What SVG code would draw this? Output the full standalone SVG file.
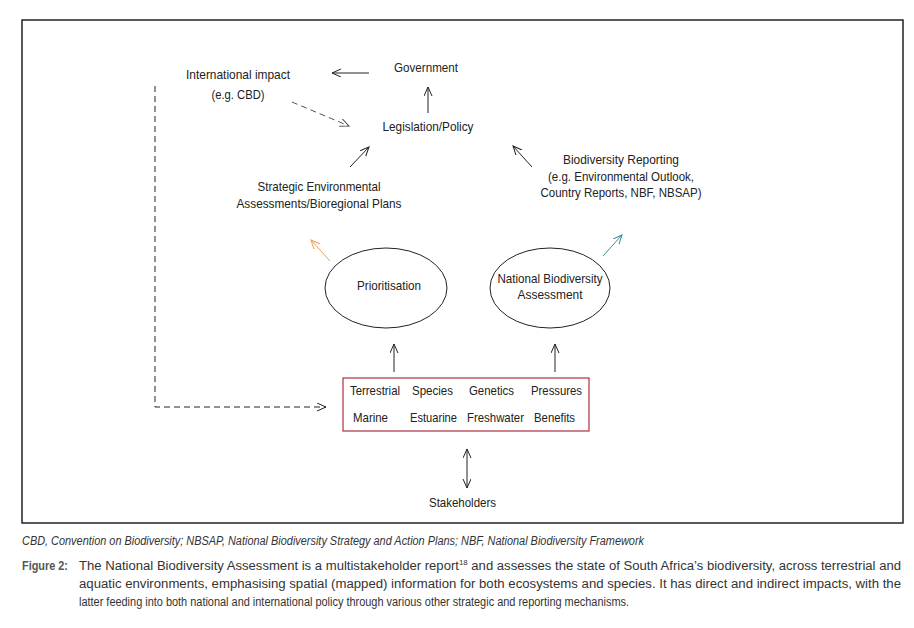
<svg xmlns="http://www.w3.org/2000/svg" width="914" height="628" viewBox="0 0 914 628">
<style>
.t{font-family:"Liberation Sans Narrow","Liberation Sans",Arial,sans-serif;font-size:13px;fill:#222;}
.c{font-family:"Liberation Sans Narrow","Liberation Sans",Arial,sans-serif;font-size:12.5px;fill:#333;}
.ln{stroke:#222;stroke-width:1;fill:none;}
.dash{stroke:#222;stroke-width:1;fill:none;stroke-dasharray:6,4;}
</style>
<defs>
<marker id="ah" markerUnits="userSpaceOnUse" markerWidth="12" markerHeight="10" refX="9" refY="4" orient="auto-start-reverse"><path d="M0,0 L9,4 L0,8" fill="none" stroke="#222" stroke-width="1"/></marker>
<marker id="ahg" markerUnits="userSpaceOnUse" markerWidth="12" markerHeight="10" refX="9" refY="4" orient="auto"><path d="M0,0 L9,4 L0,8" fill="none" stroke="#555" stroke-width="1"/></marker>
<marker id="aho" markerUnits="userSpaceOnUse" markerWidth="12" markerHeight="10" refX="9" refY="4" orient="auto"><path d="M0,0 L9,4 L0,8" fill="none" stroke="#F0A050" stroke-width="1"/></marker>
<marker id="aht" markerUnits="userSpaceOnUse" markerWidth="12" markerHeight="10" refX="9" refY="4" orient="auto"><path d="M0,0 L9,4 L0,8" fill="none" stroke="#3A8F9A" stroke-width="1"/></marker>
</defs>
<rect width="914" height="628" fill="#fff"/>
<rect x="22" y="20" width="881" height="503" fill="none" stroke="#222" stroke-width="1.5"/>

<g id="connectors">
<line class="ln" x1="369" y1="73" x2="332" y2="73" marker-end="url(#ah)"/>
<line class="ln" x1="428" y1="113" x2="428" y2="87" marker-end="url(#ah)"/>
<line class="dash" x1="292" y1="102" x2="349" y2="126" style="stroke:#555" marker-end="url(#ahg)"/>
<line class="ln" x1="350" y1="167" x2="369" y2="147" marker-end="url(#ah)"/>
<line class="ln" x1="532" y1="167" x2="513" y2="146" marker-end="url(#ah)"/>
<line x1="330" y1="261" x2="311" y2="240" stroke="#F0A050" stroke-width="1" marker-end="url(#aho)"/>
<line x1="603" y1="256" x2="622" y2="235" stroke="#3A8F9A" stroke-width="1" marker-end="url(#aht)"/>
<line class="ln" x1="394" y1="372" x2="394" y2="344" marker-end="url(#ah)"/>
<line class="ln" x1="555" y1="372" x2="555" y2="344" marker-end="url(#ah)"/>
<line class="ln" x1="467" y1="449" x2="467" y2="488" marker-start="url(#ah)" marker-end="url(#ah)"/>
<polyline class="dash" points="155,86 155,407 326,407" marker-end="url(#ah)"/>
</g>

<g id="government"><text class="t" x="426" y="72" text-anchor="middle" textLength="64" lengthAdjust="spacingAndGlyphs">Government</text></g>
<g id="international"><text class="t" x="238" y="79" text-anchor="middle" textLength="104" lengthAdjust="spacingAndGlyphs">International impact</text><text class="t" x="238" y="99" text-anchor="middle" textLength="53" lengthAdjust="spacingAndGlyphs">(e.g. CBD)</text></g>
<g id="legislation"><text class="t" x="428" y="131" text-anchor="middle" textLength="91" lengthAdjust="spacingAndGlyphs">Legislation/Policy</text></g>
<g id="sea"><text class="t" x="319" y="191" text-anchor="middle" textLength="123" lengthAdjust="spacingAndGlyphs">Strategic Environmental</text><text class="t" x="319" y="208" text-anchor="middle" textLength="165" lengthAdjust="spacingAndGlyphs">Assessments/Bioregional Plans</text></g>
<g id="reporting"><text class="t" x="621" y="164" text-anchor="middle" textLength="116" lengthAdjust="spacingAndGlyphs">Biodiversity Reporting</text><text class="t" x="621" y="181" text-anchor="middle" textLength="146" lengthAdjust="spacingAndGlyphs">(e.g. Environmental Outlook,</text><text class="t" x="621" y="197" text-anchor="middle" textLength="161" lengthAdjust="spacingAndGlyphs">Country Reports, NBF, NBSAP)</text></g>
<g id="prioritisation"><ellipse class="ln" cx="386" cy="288" rx="61" ry="40"/><text class="t" x="389" y="290" text-anchor="middle" textLength="64" lengthAdjust="spacingAndGlyphs">Prioritisation</text></g>
<g id="nba"><ellipse class="ln" cx="550" cy="288" rx="60" ry="40"/><text class="t" x="550" y="283" text-anchor="middle" textLength="105" lengthAdjust="spacingAndGlyphs">National Biodiversity</text><text class="t" x="550" y="299" text-anchor="middle" textLength="65" lengthAdjust="spacingAndGlyphs">Assessment</text></g>
<g id="components"><rect x="343" y="378" width="246" height="53" fill="none" stroke="#B03040" stroke-width="1.2"/>
<text class="t" x="375" y="395" text-anchor="middle" textLength="50" lengthAdjust="spacingAndGlyphs">Terrestrial</text>
<text class="t" x="432.5" y="395" text-anchor="middle" textLength="41" lengthAdjust="spacingAndGlyphs">Species</text>
<text class="t" x="491.5" y="395" text-anchor="middle" textLength="45" lengthAdjust="spacingAndGlyphs">Genetics</text>
<text class="t" x="556.5" y="395" text-anchor="middle" textLength="51" lengthAdjust="spacingAndGlyphs">Pressures</text>
<text class="t" x="370.5" y="422" text-anchor="middle" textLength="35" lengthAdjust="spacingAndGlyphs">Marine</text>
<text class="t" x="433.5" y="422" text-anchor="middle" textLength="47" lengthAdjust="spacingAndGlyphs">Estuarine</text>
<text class="t" x="495.5" y="422" text-anchor="middle" textLength="57" lengthAdjust="spacingAndGlyphs">Freshwater</text>
<text class="t" x="554.5" y="422" text-anchor="middle" textLength="41" lengthAdjust="spacingAndGlyphs">Benefits</text>
</g>
<g id="stakeholders"><text class="t" x="462.5" y="507" text-anchor="middle" textLength="67" lengthAdjust="spacingAndGlyphs">Stakeholders</text></g>

<g id="caption">
<text class="c" x="22" y="545" font-style="italic" textLength="622" lengthAdjust="spacingAndGlyphs">CBD, Convention on Biodiversity; NBSAP, National Biodiversity Strategy and Action Plans; NBF, National Biodiversity Framework</text>
<text class="c" x="22" y="570" font-weight="bold" style="fill:#555" textLength="46" lengthAdjust="spacingAndGlyphs">Figure 2:</text>
<text class="c" x="79" y="570" textLength="822" lengthAdjust="spacingAndGlyphs">The National Biodiversity Assessment is a multistakeholder report<tspan dy="-5" style="font-size:7.5px">18</tspan><tspan dy="5"> and assesses the state of South Africa’s biodiversity, across terrestrial and</tspan></text>
<text class="c" x="79" y="588" textLength="822" lengthAdjust="spacingAndGlyphs">aquatic environments, emphasising spatial (mapped) information for both ecosystems and species. It has direct and indirect impacts, with the</text>
<text class="c" x="79" y="606" textLength="550" lengthAdjust="spacingAndGlyphs">latter feeding into both national and international policy through various other strategic and reporting mechanisms.</text>
</g>
</svg>
